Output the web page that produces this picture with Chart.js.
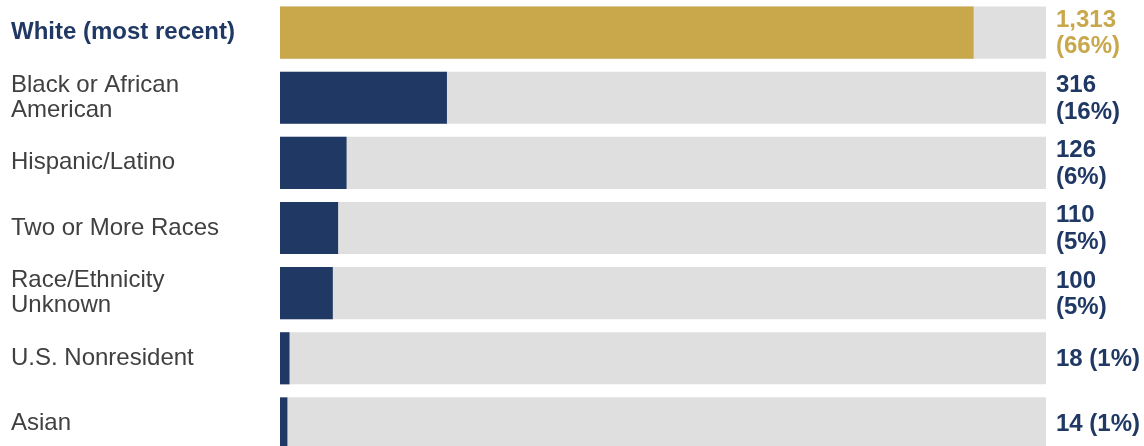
<!DOCTYPE html>
<html>
<head>
<meta charset="utf-8">
<script src="https://cdn.jsdelivr.net/npm/chart.js@4/dist/chart.umd.min.js"></script>
<style>
  html, body { margin: 0; padding: 0; background: #ffffff; overflow: hidden; }
  #wrap { position: relative; width: 1144px; height: 456px; }
</style>
</head>
<body>
<div id="wrap"><canvas id="c"></canvas></div>
<script>
// ---- data ----
const categories = [
  ['White (most recent)'],
  ['Black or African', 'American'],
  ['Hispanic/Latino'],
  ['Two or More Races'],
  ['Race/Ethnicity', 'Unknown'],
  ['U.S. Nonresident'],
  ['Asian']
];
const counts = [1313, 316, 126, 110, 100, 18, 14];
const percents = [66, 16, 6, 5, 5, 1, 1];
const highlightIndex = 0;
const axisMax = 1450;

// ---- styles ----
const GOLD = '#C9A84C';
const NAVY = '#1F3864';
const TRACK = '#DFDFDF';
const LABEL_GREY = '#404040';
const FONT = "'Liberation Sans', Arial, Helvetica, sans-serif";

const barColors = counts.map((_, i) => i === highlightIndex ? GOLD : NAVY);
const trackValues = counts.map(() => axisMax);

const valueLabels = {
  id: 'valueLabels',
  afterDatasetsDraw(chart) {
    const ctx = chart.ctx;
    const meta = chart.getDatasetMeta(0);
    const x = chart.chartArea.right + 10;
    const avail = chart.width - x - 2;
    const lh = 26.5;
    ctx.save();
    ctx.font = 'bold 24px ' + FONT;
    ctx.textAlign = 'left';
    ctx.textBaseline = 'middle';
    meta.data.forEach((el, i) => {
      const full = counts[i].toLocaleString('en-US') + ' (' + percents[i] + '%)';
      let lines = [full];
      if (ctx.measureText(full).width > avail) {
        lines = [counts[i].toLocaleString('en-US'), '(' + percents[i] + '%)'];
      }
      ctx.fillStyle = i === highlightIndex ? GOLD : NAVY;
      const y0 = el.y - (lines.length - 1) * lh / 2 + 1;
      lines.forEach((t, k) => ctx.fillText(t, x, y0 + k * lh));
    });
    ctx.restore();
  }
};

new Chart(document.getElementById('c'), {
  type: 'bar',
  data: {
    labels: categories,
    datasets: [
      {
        label: 'Count',
        data: counts,
        backgroundColor: barColors,
        grouped: false,
        order: 1,
        barPercentage: 0.8,
        categoryPercentage: 1.0
      },
      {
        label: 'Track',
        data: trackValues,
        backgroundColor: TRACK,
        grouped: false,
        order: 2,
        barPercentage: 0.8,
        categoryPercentage: 1.0
      }
    ]
  },
  options: {
    indexAxis: 'y',
    responsive: true,
    maintainAspectRatio: false,
    animation: false,
    layout: { padding: { left: 11, right: 98, top: 0, bottom: 0 } },
    plugins: {
      legend: { display: false },
      tooltip: { enabled: false }
    },
    scales: {
      x: {
        display: false,
        min: 0,
        max: axisMax
      },
      y: {
        grid: { display: false, drawTicks: false },
        border: { display: false },
        afterFit(scale) {
          scale.width = 269;
          scale.paddingTop = 0;
          scale.paddingBottom = 0;
        },
        ticks: {
          crossAlign: 'far',
          padding: 0,
          autoSkip: false,
          color: (c) => c.index === highlightIndex ? NAVY : LABEL_GREY,
          font: (c) => ({
            family: FONT,
            size: 24,
            weight: c.index === highlightIndex ? 'bold' : 'normal',
            lineHeight: 1.06
          })
        }
      }
    }
  },
  plugins: [valueLabels]
});
</script>
</body>
</html>
